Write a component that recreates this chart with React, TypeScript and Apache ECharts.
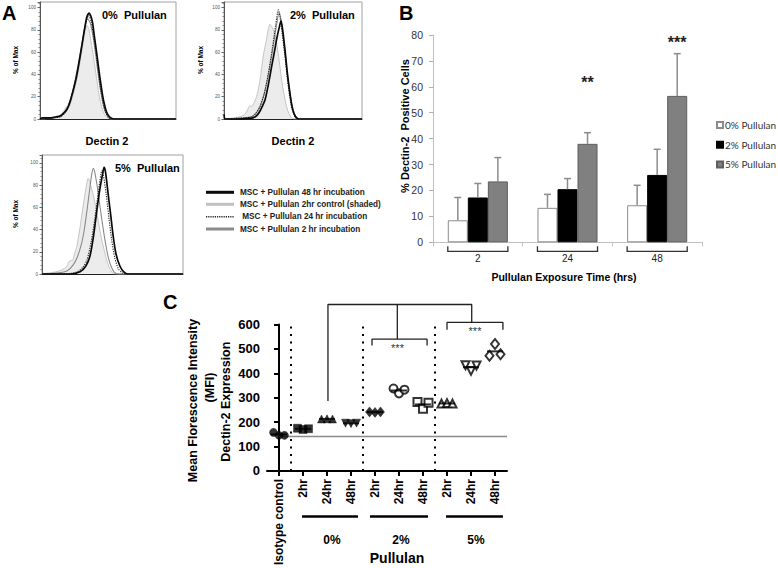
import React, { useEffect, useRef } from "react";
import * as echarts from "echarts";

const FONT = "'Liberation Sans', Arial, sans-serif";

// ---------------- Panel A : flow histograms ([relative fluorescence 0-100, % of Max]) -------------
const A_TITLES = ["0%  Pullulan", "2%  Pullulan", "5%  Pullulan"];
const A_XLABEL = "Dectin 2";
const A_YLABEL = "% of Max";
const A_LEGEND = [
  "MSC + Pullulan 48 hr incubation",
  "MSC + Pullulan 2hr control (shaded)",
  " MSC + Pullulan 24 hr incubation",
  "MSC + Pullulan 2 hr incubation",
];

const H0_CTRL = [[0,0],[10,1],[15,3],[18,8],[19.5,11],[21,10],[23,16],[25,25],[27,35],[29,48],[31,63],[33,78],[34.5,84],[36,80],[38,66],[40,50],[42,33],[44,18],[46,8],[48,3],[50,1],[53,0],[100,0]];
const H0_G2 = [[0,0],[10,1],[15,2],[18,6],[21,13],[24,25],[27,42],[30,62],[33,82],[35,90],[37,86],[39,74],[41,57],[43,38],[45,22],[47,10],[49,4],[52,0],[100,0]];
const H0_DOT = [[0,0],[10,1],[15,2],[18,5],[21,12],[24,24],[27,40],[30,60],[33,82],[35.8,93],[37.5,88],[40,70],[42,52],[44,32],[46,17],[48,7],[50,2],[53,0],[100,0]];
const H0_BLACK = [[0,0],[2,1],[8,1],[12,2],[15,3],[18,6],[20,9],[22,15],[24.5,26],[26.5,36],[28.2,47],[30,60],[32,75],[34.3,91],[36,95],[37.5,92],[38.7,86],[40,74],[41.7,59],[43.5,42],[45.4,26],[47,15],[49,6],[51,2],[53,0.5],[56,0],[100,0]];

const H2_CTRL = [[0,0],[8,1],[11.6,2],[15,4],[17,8],[18.8,12],[20,11],[22,15],[24,22],[26,34],[28.5,57],[30.9,72],[32,80],[33.3,85],[35,82],[37,75],[38.5,65],[40,52],[41.8,35],[43.5,22],[45.4,11],[47,5],[49,1],[52,0],[100,0]];
const H2_G2 = [[0,0],[15,1],[20,2],[23,5],[26,11],[29,22],[32,39],[35,60],[37.5,80],[40,95],[41.5,88],[43,72],[45,50],[47,30],[49,14],[51,5],[53,1],[56,0],[100,0]];
const H2_DOT = [[0,0],[15,1],[20,2],[23,5],[26,11],[29,22],[32,40],[35,63],[37.5,85],[39.4,98],[40.5,92],[42,78],[44,58],[46,35],[48,17],[50,6],[52,1],[55,0],[100,0]];
const H2_BLACK = [[0,4],[1,0],[10,0],[18,0.5],[21,1],[23.7,3],[26,7],[28,12],[29.7,17],[32,30],[34.5,47],[36.5,60],[38.2,72],[40,82],[41.3,88],[42.5,80],[44.2,62],[46,40],[47.8,23],[49.5,10],[51.4,3],[54,0],[100,0]];

const H5_CTRL = [[0,0.5],[6,1],[12.8,3],[17,6],[19.9,12],[21.5,12],[23,18],[24.6,24],[27,42],[29.3,62],[31,76],[32.8,86],[34,82],[36.4,71],[38.5,58],[40,47],[42,33],[44,22],[46,12],[48,5],[50,1],[53,0],[100,0]];
const H5_G2 = [[0,0],[12,1],[18,3],[22,8],[25,15],[28,27],[30,40],[32,58],[34,78],[35.3,90],[36.4,95],[37.5,91],[39,80],[41,62],[43,44],[45,28],[47,15],[49,7],[51,2],[54,0],[100,0]];
const H5_DOT = [[0,0],[20,0.5],[25,2],[29,6],[32,13],[35,30],[37.5,50],[40,74],[42.5,93],[43.5,89],[45.5,72],[47.5,50],[49.5,30],[51.5,15],[54,5],[57,1],[60,0],[100,0]];
const H5_BLACK = [[0,0],[20,0],[27,2],[31,7],[34,16],[36.4,33],[38.8,56],[41,76],[43,90],[44,96],[45,92],[47,71],[49,50],[50.6,33],[52.5,18],[55.3,7],[58,2],[61,0],[100,0]];

// ---------------- Panel B : % Dectin-2 positive cells -------------
const B_CATS = ["2", "24", "48"];
const B_NAMES = ["0% Pullulan", "2% Pullulan", "5% Pullulan"];
const B_MEAN_0 = [8.5, 13.3, 14.3];
const B_MEAN_2 = [17.3, 20.5, 26.0];
const B_MEAN_5 = [23.5, 38.0, 56.5];
const B_TOP_0 = [17.3, 18.5, 22.0];
const B_TOP_2 = [22.7, 24.6, 35.9];
const B_TOP_5 = [32.7, 42.3, 72.8];
const B_SIG = ["", "**", "***"];
const B_SIG_Y = [0, 61.5, 77];
const B_YTITLE = "% Dectin-2  Positive Cells";
const B_XTITLE = "Pullulan Exposure Time (hrs)";

// ---------------- Panel C : MFI -------------
const C_CATS = ["Isotype control", "2hr", "24hr", "48hr", "2hr", "24hr", "48hr", "2hr", "24hr", "48hr"];
const C_REP_L = [158, 175, 213, 196, 242, 338, 283, 276, 433, 472];
const C_REP_M = [146, 170, 214, 194, 240, 318, 255, 278, 410, 520];
const C_REP_R = [146, 173, 213, 196, 242, 333, 280, 276, 432, 478];
const C_BASELINE = 141;
const C_DIVIDERS = [0.5, 3.5, 6.5];
const C_GROUPS = ["0%", "2%", "5%"];
const C_GROUP_SPANS = [[0.96, 3.29], [3.79, 6.21], [6.96, 9.33]];
const C_GROUP_LINE_Y = -186;
const C_BRACKETS = [
  [[2.04, 287], [2.04, 682], [8.03, 682], [8.03, 609]],
  [[4.93, 682], [4.93, 540]],
  [[3.875, 514], [3.875, 540], [6.17, 540], [6.17, 514]],
  [[7.0, 579], [7.0, 609], [9.33, 609], [9.33, 579]],
];
const C_YTITLE = ["Mean Florescence Intensity", "(MFI)", "Dectin-2 Expression"];
const C_XTITLE = "Pullulan";

// style constants for panel C symbols
const C_SYMBOL = ["circle", "rect", "triangle", "triangle", "diamond", "circle", "rect", "triangle", "triangle", "diamond"];
const C_ROTATE = [0, 0, 0, 180, 0, 0, 0, 0, 180, 0];

const BAR_GAP = 0.33;

function histSeries(gi: number, data: number[][], kind: string) {
  const styles: any = {
    ctrl: { lineStyle: { color: "#c4c4c4", width: 1 }, areaStyle: { color: "#ececec", opacity: 1 }, z: 2 },
    g2: { lineStyle: { color: "#8a8a8a", width: 1.1 }, z: 3 },
    dot: { lineStyle: { color: "#222", width: 1.1, type: [1.2, 1.2] }, z: 4 },
    black: { lineStyle: { color: "#0a0a0a", width: 1.7 }, z: 5 },
  };
  return {
    type: "line",
    xAxisIndex: gi,
    yAxisIndex: gi,
    data,
    showSymbol: false,
    symbol: "none",
    smooth: 0.25,
    silent: true,
    ...styles[kind],
  };
}

function txt(x: number, y: number, text: string, size: number, o: any = {}) {
  const align = o.align || "center";
  const va = o.va || "middle";
  return {
    type: "text",
    x,
    y,
    rotation: o.rot || 0,
    z: 50,
    style: {
      text,
      fontSize: size,
      fontWeight: o.weight || "bold",
      fontFamily: o.font || FONT,
      fill: o.color || "#000",
      align,
      textAlign: align,
      verticalAlign: va,
      textVerticalAlign: va,
    },
  };
}

export default function App() {
  const ref = useRef<HTMLDivElement>(null);
  useEffect(() => {
    if (!ref.current) return;
    const chart = echarts.init(ref.current, undefined, { renderer: "svg" });

    const histGrids = [
      { left: 40, top: 2, width: 136, height: 117, ymax: 105 },
      { left: 224, top: 2, width: 138, height: 117, ymax: 105 },
      { left: 42, top: 155, width: 141, height: 119, ymax: 107 },
    ];
    const histData = [
      [H0_CTRL, H0_G2, H0_DOT, H0_BLACK],
      [H2_CTRL, H2_G2, H2_DOT, H2_BLACK],
      [H5_CTRL, H5_G2, H5_DOT, H5_BLACK],
    ];

    const grids: any[] = histGrids.map((g) => ({
      left: g.left, top: g.top, width: g.width, height: g.height,
      show: true, borderColor: "#a0a0a0", borderWidth: 1, backgroundColor: "transparent",
    }));
    grids.push({ left: 433, top: 35, width: 269, height: 207.3 });
    grids.push({ left: 267, top: 324.5, width: 240, height: 154.5 });

    const xAxes: any[] = histGrids.map((g, i) => ({
      gridIndex: i, type: "value", min: 0, max: 100,
      axisLine: { show: true, lineStyle: { color: "#222", width: 1 } },
      axisTick: { show: false }, axisLabel: { show: false }, splitLine: { show: false },
    }));
    xAxes.push({
      gridIndex: 3, type: "category", data: B_CATS,
      axisLine: { show: true, lineStyle: { color: "#c0c0c0", width: 1 } },
      axisTick: { show: true, length: 4, lineStyle: { color: "#c0c0c0" } },
      axisLabel: { fontSize: 10, color: "#222", margin: 11, fontFamily: FONT },
      splitLine: { show: false },
    });
    xAxes.push({
      gridIndex: 4, type: "category", data: C_CATS,
      axisLine: { show: true, lineStyle: { color: "#000", width: 2 } },
      axisTick: { show: true, alignWithLabel: true, length: 5, lineStyle: { color: "#000", width: 2 } },
      axisLabel: { rotate: 90, interval: 0, fontSize: 12, fontWeight: "bold", color: "#000", margin: 8, fontFamily: FONT },
      splitLine: { show: false },
    });
    xAxes.push({ gridIndex: 4, type: "value", min: -0.5, max: 9.5, show: false });

    const yAxes: any[] = histGrids.map((g, i) => ({
      gridIndex: i, type: "value", min: 0, max: g.ymax, interval: 20,
      axisLine: { show: true, lineStyle: { color: "#555", width: 1 } },
      axisTick: { show: true, length: 2.5, lineStyle: { color: "#666" } },
      minorTick: { show: true, splitNumber: 5, length: 1.5, lineStyle: { color: "#888" } },
      axisLabel: {
        fontSize: 4.6, color: "#555", margin: 4, showMaxLabel: false, fontFamily: FONT,
        formatter: (v: number) => (v % 20 === 0 ? String(v) : ""),
      },
      splitLine: { show: false },
    }));
    yAxes.push({
      gridIndex: 3, type: "value", min: 0, max: 80, interval: 10,
      axisLine: { show: true, lineStyle: { color: "#c0c0c0" } },
      axisTick: { show: true, length: 4, lineStyle: { color: "#b0b0b0" } },
      axisLabel: { fontSize: 10.5, color: "#333", margin: 10, fontFamily: FONT },
      splitLine: { show: false },
    });
    yAxes.push({
      gridIndex: 4, type: "value", min: 0, max: 600, interval: 100,
      axisLine: { show: true, lineStyle: { color: "#000", width: 2 } },
      axisTick: { show: true, length: 5, lineStyle: { color: "#000", width: 2 } },
      axisLabel: { fontSize: 13, fontWeight: "bold", color: "#000", margin: 7, fontFamily: FONT },
      splitLine: { show: false },
    });

    const series: any[] = [];
    const kinds = ["ctrl", "g2", "dot", "black"];
    histData.forEach((set, gi) => set.forEach((d, k) => series.push(histSeries(gi, d, kinds[k]))));

    // Panel B bars
    const bMeans = [B_MEAN_0, B_MEAN_2, B_MEAN_5];
    const bTops = [B_TOP_0, B_TOP_2, B_TOP_5];
    const bStyles = [
      { color: "#ffffff", borderColor: "#8c8c8c", borderWidth: 1 },
      { color: "#000000", borderColor: "#000000", borderWidth: 1 },
      { color: "#808080", borderColor: "#5e5e5e", borderWidth: 1 },
    ];
    bMeans.forEach((m, s) => {
      series.push({
        type: "bar", name: B_NAMES[s], xAxisIndex: 3, yAxisIndex: 3, data: m,
        barGap: "0%", barCategoryGap: BAR_GAP * 100 + "%", itemStyle: bStyles[s], z: 2,
      });
    });
    const errData: any[] = [];
    bMeans.forEach((m, s) => m.forEach((v, c) => errData.push([c, v, bTops[s][c], s, s === 2 ? B_SIG_Y[c] : 0, s === 2 ? B_SIG[c] : ""])));
    series.push({
      type: "custom", xAxisIndex: 3, yAxisIndex: 3, data: errData, z: 5, silent: true,
      encode: { x: 0, y: [1, 2] },
      renderItem: (params: any, api: any) => {
        const c = api.value(0), v = api.value(1), hi = api.value(2), s = api.value(3), sy = api.value(4);
        const sig = errData[params.dataIndex][5];
        const band = api.size([1, 0])[0];
        const bw = (band * (1 - BAR_GAP)) / 3;
        const p0 = api.coord([c, v]);
        const p1 = api.coord([c, hi]);
        const x = p0[0] + (s - 1) * bw;
        const st = { stroke: "#8c8c8c", lineWidth: 1.5 };
        const children: any[] = [
          { type: "line", shape: { x1: x, y1: p0[1], x2: x, y2: p1[1] }, style: st },
          { type: "line", shape: { x1: x - 3.5, y1: p1[1], x2: x + 3.5, y2: p1[1] }, style: st },
        ];
        if (sig) {
          const ps = api.coord([c, sy]);
          children.push({
            type: "text",
            style: { text: sig, x, y: ps[1], align: "center", verticalAlign: "middle", textAlign: "center", textVerticalAlign: "middle", fontSize: 16, fontWeight: "bold", fontFamily: FONT, fill: "#222" },
          });
        }
        return { type: "group", children };
      },
    });
    series.push({
      type: "custom", xAxisIndex: 3, yAxisIndex: 3, silent: true, z: 5,
      data: B_CATS.map((_, i) => [i, 0]),
      renderItem: (params: any, api: any) => {
        const c = api.value(0);
        const band = api.size([1, 0])[0];
        const bw = (band * (1 - BAR_GAP)) / 3;
        const p = api.coord([c, 0]);
        const y = p[1] + 9;
        const x1 = p[0] - 1.5 * bw, x2 = p[0] + 1.5 * bw;
        return {
          type: "polyline",
          shape: { points: [[x1, y - 5], [x1, y], [x2, y], [x2, y - 5]] },
          style: { stroke: "#333", lineWidth: 1.3, fill: null },
        };
      },
    });

    // Panel C annotations lines
    const lineSeries = (pts: number[][], style: any, z = 3) => ({
      type: "line", xAxisIndex: 5, yAxisIndex: 4, data: pts, symbol: "none", showSymbol: false,
      clip: false, silent: true, lineStyle: style, z,
    });
    series.push(lineSeries([[0, C_BASELINE], [9.5, C_BASELINE]], { color: "#8a8a8a", width: 1.5 }, 1));
    C_DIVIDERS.forEach((x) => series.push(lineSeries([[x, 0], [x, 600]], { color: "#000", width: 2, type: [2, 5.5] }, 1)));
    C_GROUP_SPANS.forEach((sp) => series.push(lineSeries([[sp[0], C_GROUP_LINE_Y], [sp[1], C_GROUP_LINE_Y]], { color: "#000", width: 2.5 })));
    C_BRACKETS.forEach((b) => series.push(lineSeries(b, { color: "#222", width: 1.3 })));

    // Panel C replicate points
    const reps = [C_REP_L, C_REP_M, C_REP_R];
    const offs = [-5.5, 0, 5.5];
    reps.forEach((r, k) => {
      series.push({
        type: "scatter", xAxisIndex: 4, yAxisIndex: 4, silent: true, z: 6 + k,
        symbolOffset: [offs[k], 0],
        data: r.map((v, i) => {
          const open = i >= 5;
          const sym = C_SYMBOL[i];
          return {
            value: [i, v],
            symbol: sym,
            symbolRotate: C_ROTATE[i],
            symbolSize: sym === "diamond" ? [8, 10] : 8,
            itemStyle: open
              ? { color: "#fff", borderColor: "#000", borderWidth: 2 }
              : { color: "#000", borderColor: "#000", borderWidth: 0.5 },
          };
        }),
      });
    });
    series.push({
      type: "scatter", xAxisIndex: 4, yAxisIndex: 4, silent: true, z: 10,
      symbol: "rect", symbolSize: [16, 2], itemStyle: { color: "#000" },
      data: C_CATS.map((_, i) => [i, (C_REP_L[i] + C_REP_M[i] + C_REP_R[i]) / 3]),
    });

    // graphic texts
    const g: any[] = [];
    g.push(txt(2, 3, "A", 20, { align: "left", va: "top" }));
    g.push(txt(399, 3, "B", 20, { align: "left", va: "top" }));
    g.push(txt(163, 292, "C", 20, { align: "left", va: "top" }));
    const titlePos = [[102, 15], [290, 15], [115, 168]];
    A_TITLES.forEach((t, i) => g.push(txt(titlePos[i][0], titlePos[i][1], t, 11, { align: "left" })));
    const ylabPos = [[15, 60], [200, 60], [15, 214]];
    ylabPos.forEach((p) => g.push(txt(p[0], p[1], A_YLABEL, 6.5, { rot: Math.PI / 2 })));
    g.push(txt(107, 141, A_XLABEL, 11));
    g.push(txt(293, 141, A_XLABEL, 11));
    const legY = [192.3, 204.3, 216.7, 229];
    const legStyles = [
      { stroke: "#0a0a0a", lineWidth: 3 },
      { stroke: "#c0c0c0", lineWidth: 3 },
      { stroke: "#222", lineWidth: 1.6, lineDash: [1.2, 1] },
      { stroke: "#8a8a8a", lineWidth: 3 },
    ];
    A_LEGEND.forEach((t, i) => {
      g.push({ type: "line", z: 50, shape: { x1: 206, y1: legY[i], x2: 234, y2: legY[i] }, style: legStyles[i] });
      g.push(txt(240, legY[i], t, 8.2, { align: "left", color: "#222" }));
    });
    g.push(txt(405, 126, B_YTITLE, 11, { rot: Math.PI / 2 }));
    g.push(txt(564, 277, B_XTITLE, 10.5));
    const cyx = [193, 210, 226];
    const cyy = [400.5, 387.5, 401.7];
    C_YTITLE.forEach((t, i) => g.push(txt(cyx[i], cyy[i], t, 12.5, { rot: Math.PI / 2 })));
    const gx = [332, 401, 476];
    C_GROUPS.forEach((t, i) => g.push(txt(gx[i], 540, t, 12)));
    g.push(txt(397, 558, C_XTITLE, 14));
    g.push(txt(397.5, 348, "***", 11, { weight: "normal", color: "#333" }));
    g.push(txt(475, 331, "***", 11, { weight: "normal", color: "#333" }));

    const option: any = {
      animation: false,
      backgroundColor: "#ffffff",
      textStyle: { fontFamily: FONT },
      grid: grids,
      xAxis: xAxes,
      yAxis: yAxes,
      legend: {
        data: B_NAMES, orient: "vertical", left: 716, top: 119, padding: 0,
        itemWidth: 6, itemHeight: 6, itemGap: 7.7, icon: "rect",
        textStyle: { fontSize: 10, color: "#333", fontFamily: "Lato, 'Liberation Sans', sans-serif", lineHeight: 12, padding: [0, 0, 0, -3] },
        selectedMode: false,
      },
      series,
      graphic: { elements: g },
    };
    chart.setOption(option);
    return () => chart.dispose();
  }, []);
  return (
    <div
      ref={ref}
      style={{ position: "absolute", left: 0, top: 0, width: 778, height: 568, background: "#fff" }}
    />
  );
}
